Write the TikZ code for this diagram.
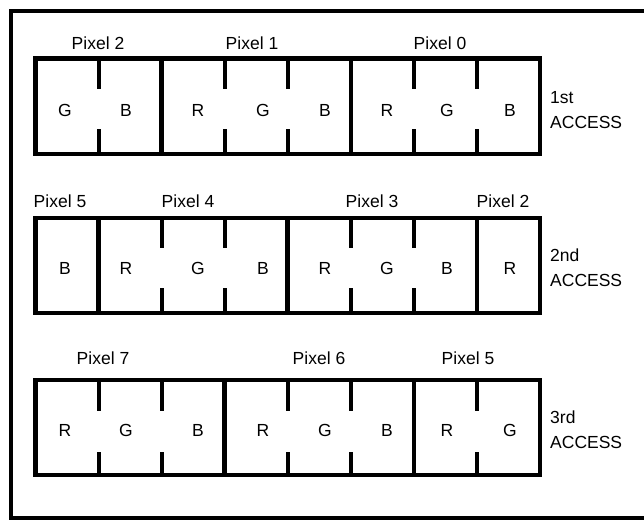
\documentclass[tikz,border=0pt]{standalone}
\usepackage{fontspec}
\setmainfont{Liberation Sans}
\begin{document}
\begin{tikzpicture}[x=1pt, y=-1pt,
    frame/.style={line width=4pt},
    box/.style={line width=4.5pt},
    notch/.style={line width=4pt},
    txt/.style={font=\fontsize{17.5}{25}\selectfont, inner sep=0pt}]
    \useasboundingbox (0,0) rectangle (644,519);
    \draw[frame] (650,11) -- (11,11) -- (11,518) -- (650,518);

    % 1st Access
    \draw[box] (35.5,58.5) rectangle (540,154);
    \foreach \k in {2,5}
        \draw[box] ({35.5+\k*63.06},58.5) -- ++(0,95.5);
    \foreach \k in {1,3,4,6,7} {
        \draw[notch] ({35.5+\k*63.06},58.5) -- ++(0,30);
        \draw[notch] ({35.5+\k*63.06},154) -- ++(0,-25);
    }
    \foreach \x/\c [count=\i] in {65/G,126/B,198/R,263/G,325/B,387/R,447/G,510/B}
        \node[txt] (a1-\i) at (\x,110) {\c};
    \node[txt] (px2a) at (98,43) {Pixel 2};
    \node[txt] (px1) at (252,43) {Pixel 1};
    \node[txt] (px0) at (440,43) {Pixel 0};
    \node[txt, anchor=west, align=left] (acc1) at (550,110) {1st\\ACCESS};

    % 2nd Access
    \draw[box] (35.5,218) rectangle (540,313);
    \foreach \k in {1,4,7}
        \draw[box] ({35.5+\k*63.06},218) -- ++(0,95);
    \foreach \k in {2,3,5,6} {
        \draw[notch] ({35.5+\k*63.06},218) -- ++(0,30);
        \draw[notch] ({35.5+\k*63.06},313) -- ++(0,-25);
    }
    \foreach \x/\c [count=\i] in {65/B,126/R,198/G,263/B,325/R,387/G,447/B,510/R}
        \node[txt] (a2-\i) at (\x,268) {\c};
    \node[txt] (px5a) at (60,201) {Pixel 5};
    \node[txt] (px4) at (188,201) {Pixel 4};
    \node[txt] (px3) at (372,201) {Pixel 3};
    \node[txt] (px2b) at (503,201) {Pixel 2};
    \node[txt, anchor=west, align=left] (acc2) at (550,268) {2nd\\ACCESS};

    % 3rd Access
    \draw[box] (35.5,380) rectangle (540,475);
    \foreach \k in {3,6}
        \draw[box] ({35.5+\k*63.06},380) -- ++(0,95);
    \foreach \k in {1,2,4,5,7} {
        \draw[notch] ({35.5+\k*63.06},380) -- ++(0,31);
        \draw[notch] ({35.5+\k*63.06},475) -- ++(0,-23);
    }
    \foreach \x/\c [count=\i] in {65/R,126/G,198/B,263/R,325/G,387/B,447/R,510/G}
        \node[txt] (a3-\i) at (\x,430) {\c};
    \node[txt] (px7) at (103,358) {Pixel 7};
    \node[txt] (px6) at (319,358) {Pixel 6};
    \node[txt] (px5b) at (468,358) {Pixel 5};
    \node[txt, anchor=west, align=left] (acc3) at (550,430) {3rd\\ACCESS};
\end{tikzpicture}
\end{document}
